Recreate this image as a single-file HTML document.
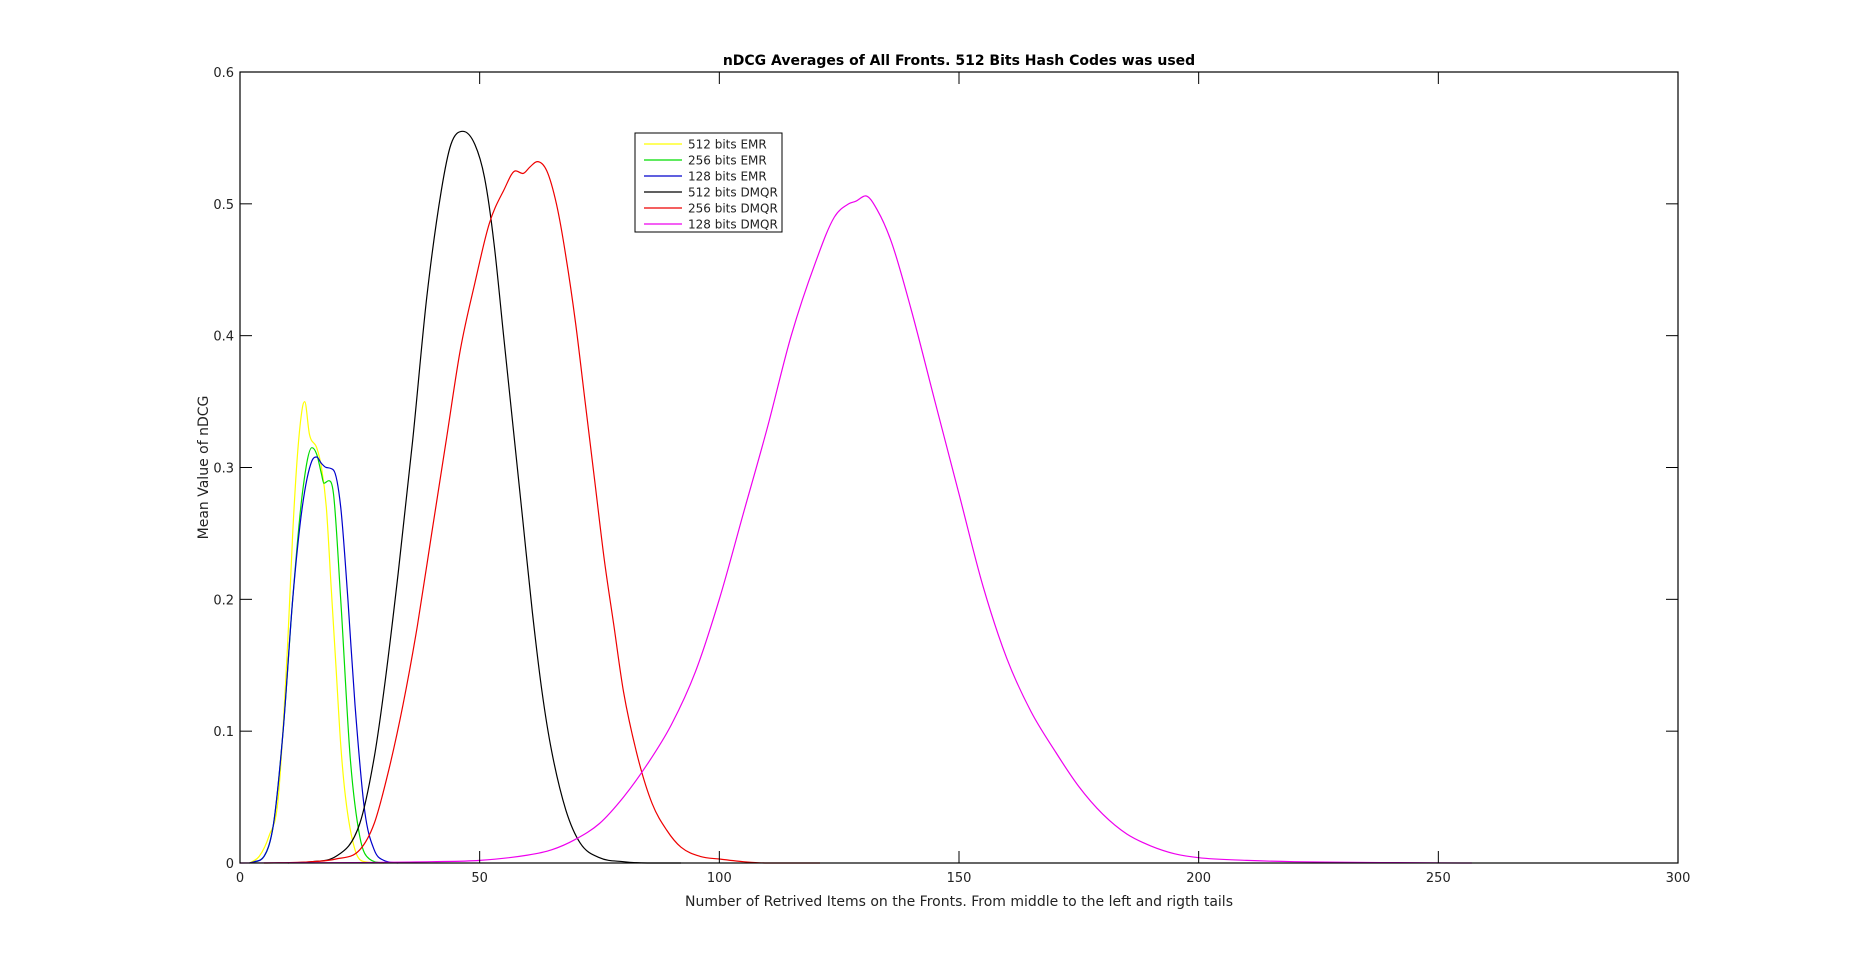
<!DOCTYPE html>
<html><head><meta charset="utf-8"><style>
html,body{margin:0;padding:0;background:#fff;}
svg{display:block;font-family:"DejaVu Sans","Liberation Sans",sans-serif;}
</style></head><body>
<svg id="chart" width="1853" height="970" viewBox="0 0 1853 970" xmlns="http://www.w3.org/2000/svg">
<rect x="0" y="0" width="1853" height="970" fill="#fff"/>
<g id="marks"></g>
<g id="axes"></g>
</svg>
<script>
const xTicks=[0,50,100,150,200,250,300];
const yTicks=[0,0.1,0.2,0.3,0.4,0.5,0.6];
const yTickLabels=["0","0.1","0.2","0.3","0.4","0.5","0.6"];
const seriesNames=["512 bits EMR","256 bits EMR","128 bits EMR","512 bits DMQR","256 bits DMQR","128 bits DMQR"];
const seriesColors=["#ffff00","#00dd00","#0000cc","#000000","#ee0000","#ee00ee"];
const yellowX=[2,4,6,8,10,11,12,13,13.5,14.5,16,17,18,19,20,21,22,24,26,30];
const yellowY=[0,0.005,0.02,0.05,0.17,0.25,0.31,0.345,0.35,0.325,0.315,0.3,0.27,0.21,0.15,0.09,0.05,0.01,0.001,0];
const greenX=[2,5,7,9,11,13,15,16,17,17.5,18.5,19.5,21,23,25,27,30];
const greenY=[0,0.005,0.03,0.1,0.2,0.28,0.315,0.31,0.295,0.288,0.29,0.28,0.2,0.08,0.02,0.003,0];
const blueX=[2,3,5,7,9,11,13,15,16,17,18,19.5,21,22.5,24,26,28,30,33];
const blueY=[0,0.001,0.005,0.03,0.1,0.2,0.27,0.305,0.308,0.303,0.3,0.298,0.27,0.2,0.12,0.04,0.01,0.002,0];
const blackX=[10,15,20,25,28,30,33,36,39,42,44,46.5,49,51,53,55,57,59,61,63,65,68,71,75,80,85,92];
const blackY=[0,0.001,0.005,0.03,0.08,0.13,0.22,0.32,0.43,0.51,0.545,0.555,0.545,0.52,0.47,0.4,0.33,0.26,0.19,0.13,0.085,0.04,0.015,0.004,0.001,0,0];
const redX=[5,15,20,25,28,31,34,37,40,43,46,49,52,55,57.5,59,60.5,62,64,66,68,70,72,74,76,78,80,83,86,89,92,96,100,105,110,121];
const redY=[0,0.001,0.003,0.01,0.03,0.07,0.12,0.18,0.25,0.32,0.39,0.44,0.485,0.51,0.525,0.523,0.528,0.532,0.525,0.5,0.46,0.41,0.35,0.29,0.23,0.18,0.13,0.08,0.045,0.025,0.012,0.005,0.003,0.001,0,0];
const magentaX=[0,40,50,60,65,70,75,80,85,90,95,100,105,110,115,120,124,127,128.5,130.5,133,136,140,145,150,155,160,165,170,175,180,185,190,195,200,210,220,257];
const magentaY=[0,0.001,0.002,0.006,0.01,0.018,0.03,0.05,0.075,0.105,0.145,0.2,0.265,0.33,0.4,0.455,0.49,0.5,0.502,0.506,0.495,0.47,0.42,0.35,0.28,0.21,0.155,0.115,0.085,0.058,0.037,0.022,0.013,0.007,0.004,0.002,0.001,0];

const L=240,R=1678,T=72,B=863;
const sx=v=>L+(v-0)/(300-0)*(R-L);
const sy=v=>B-(v-0)/(0.6-0)*(B-T);
const NS="http://www.w3.org/2000/svg";
function mk(tag,attrs,parent){const e=document.createElementNS(NS,tag);for(const k in attrs)e.setAttribute(k,attrs[k]);parent.appendChild(e);return e;}
function smoothPath(px,py){
  const n=px.length;
  // monotone cubic (Fritsch-Carlson) in pixel space
  const d=[],m=new Array(n);
  for(let i=0;i<n-1;i++)d.push((py[i+1]-py[i])/(px[i+1]-px[i]));
  m[0]=d[0];m[n-1]=d[n-2];
  for(let i=1;i<n-1;i++)m[i]=(d[i-1]*d[i]<=0)?0:(d[i-1]+d[i])/2;
  for(let i=0;i<n-1;i++){if(d[i]===0){m[i]=0;m[i+1]=0;}else{const a=m[i]/d[i],b=m[i+1]/d[i],s=a*a+b*b;if(s>9){const t=3/Math.sqrt(s);m[i]=t*a*d[i];m[i+1]=t*b*d[i];}}}
  let p='M'+px[0].toFixed(1)+','+py[0].toFixed(1);
  for(let i=0;i<n-1;i++){const h=(px[i+1]-px[i])/3;
    p+=' C'+(px[i]+h).toFixed(1)+','+(py[i]+m[i]*h).toFixed(1)+' '+(px[i+1]-h).toFixed(1)+','+(py[i+1]-m[i+1]*h).toFixed(1)+' '+px[i+1].toFixed(1)+','+py[i+1].toFixed(1);}
  return p;
}
const marks=document.getElementById('marks'),axes=document.getElementById('axes');
const allX=[yellowX,greenX,blueX,blackX,redX,magentaX],allY=[yellowY,greenY,blueY,blackY,redY,magentaY];
const keys=["512-emr","256-emr","128-emr","512-dmqr","256-dmqr","128-dmqr"];
for(let s=0;s<6;s++){
  const d=smoothPath(allX[s].map(sx),allY[s].map(sy));
  const p=mk('path',{d:d,fill:'none',stroke:seriesColors[s],'stroke-width':1.2,'stroke-linejoin':'round'},marks);
  
  
}
const box=mk('rect',{x:L,y:T,width:R-L,height:B-T,fill:'none',stroke:'#000','stroke-width':1.2},axes);


xTicks.forEach(v=>{
  const x=sx(v);
  mk('line',{x1:x,y1:B,x2:x,y2:B-12,stroke:'#000','stroke-width':1},axes);
  mk('line',{x1:x,y1:T,x2:x,y2:T+12,stroke:'#000','stroke-width':1},axes);
  const t=mk('text',{x:x,y:B+19,'text-anchor':'middle','font-size':13,fill:'#222'},axes);
  t.textContent=String(v);
  
  
});
yTicks.forEach((v,i)=>{
  const y=sy(v);
  mk('line',{x1:L,y1:y,x2:L+12,y2:y,stroke:'#000','stroke-width':1},axes);
  mk('line',{x1:R,y1:y,x2:R-12,y2:y,stroke:'#000','stroke-width':1},axes);
  const t=mk('text',{x:L-6,y:y+5,'text-anchor':'end','font-size':13,fill:'#222'},axes);
  t.textContent=yTickLabels[i];
  
  
});
const title=mk('text',{x:(L+R)/2,y:65,'text-anchor':'middle','font-size':14,'font-weight':'bold',fill:'#000'},axes);
title.textContent="nDCG Averages of All Fronts. 512 Bits Hash Codes was used";


const xl=mk('text',{x:(L+R)/2,y:906,'text-anchor':'middle','font-size':14,fill:'#222'},axes);
xl.textContent="Number of Retrived Items on the Fronts. From middle to the left and rigth tails";


const yl=mk('text',{x:0,y:0,'text-anchor':'middle','font-size':14,fill:'#222',transform:'translate(208,'+((T+B)/2)+') rotate(-90)'},axes);
yl.textContent="Mean Value of nDCG";


const lg=mk('g',{},axes);


mk('rect',{x:635,y:133,width:147,height:99,fill:'#fff',stroke:'#000','stroke-width':1},lg);
seriesNames.forEach((n,i)=>{
  const y=144+i*16;
  const e=mk('g',{},lg);
  
  
  mk('line',{x1:644,y1:y,x2:682,y2:y,stroke:seriesColors[i],'stroke-width':1.2},e);
  const t=mk('text',{x:688,y:y+4.5,'font-size':12,fill:'#222'},e);
  t.textContent=n;
});
</script>
</body></html>
